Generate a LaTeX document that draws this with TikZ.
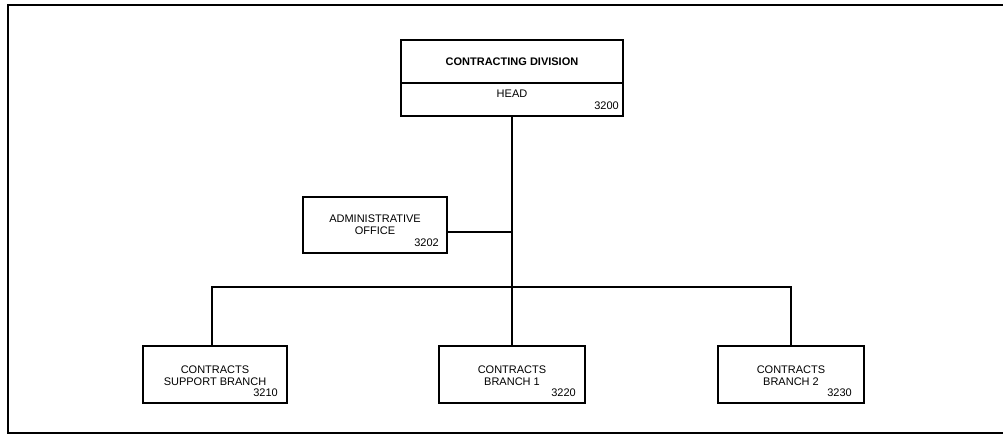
\documentclass[tikz,border=0pt]{standalone}
\usepackage{fontspec}
\setmainfont{Liberation Sans}
\usetikzlibrary{calc}
\begin{document}
\begin{tikzpicture}[x=1pt,y=-1pt,
  box/.style={draw, line width=1.6pt, inner sep=0pt, fill=white},
  txt/.style={inner sep=0pt, align=center, font=\fontsize{11}{12}\selectfont},
  num/.style={inner sep=0pt, font=\fontsize{11}{12}\selectfont, anchor=base east},
  conn/.style={line width=1.6pt}]
\useasboundingbox (0,0) rectangle (1003,435);
\draw[line width=1.6pt] (1004,5) -- (8,5) -- (8,433) -- (1004,433);
\coordinate (jc) at (512,287);
\coordinate (jl) at (212,287);
\coordinate (jr) at (791,287);
\coordinate (ja) at (512,232);
% boxes
\node[box, minimum width=222, minimum height=76] (top) at (512,78) {};
\draw[line width=1.6pt] (top.west |- 0,83) -- (top.east |- 0,83);
\node[txt, anchor=base, font=\fontsize{11}{12}\selectfont\bfseries] (topt) at (512,66) {CONTRACTING DIVISION};
\node[txt, anchor=base] (toph) at (512,98) {HEAD};
\node[num] (topn) at (619,110) {3200};

\node[box, minimum width=144, minimum height=56] (adm) at (375,225) {};
\node[txt, anchor=base] (admt) at (375,235) {ADMINISTRATIVE\\OFFICE};
\node[num] (admn) at (439,247) {3202};

\node[box, minimum width=144, minimum height=57] (b1) at (215,374.5) {};
\node[txt, anchor=base] (b1t) at (215,385) {CONTRACTS\\SUPPORT BRANCH};
\node[num] (b1n) at (278,396) {3210};

\node[box, minimum width=146, minimum height=57] (b2) at (512,374.5) {};
\node[txt, anchor=base] (b2t) at (512,385) {CONTRACTS\\BRANCH 1};
\node[num] (b2n) at (576,396) {3220};

\node[box, minimum width=146, minimum height=57] (b3) at (791,374.5) {};
\node[txt, anchor=base] (b3t) at (791,385) {CONTRACTS\\BRANCH 2};
\node[num] (b3n) at (852,396) {3230};

\draw[conn] (top.south) -- (jc) -- (b2.north);
\draw[conn] (adm.east |- ja) -- (ja);
\draw[conn] (jl |- b1.north) -- (jl) -- (jr) -- (jr |- b3.north);
\end{tikzpicture}
\end{document}
